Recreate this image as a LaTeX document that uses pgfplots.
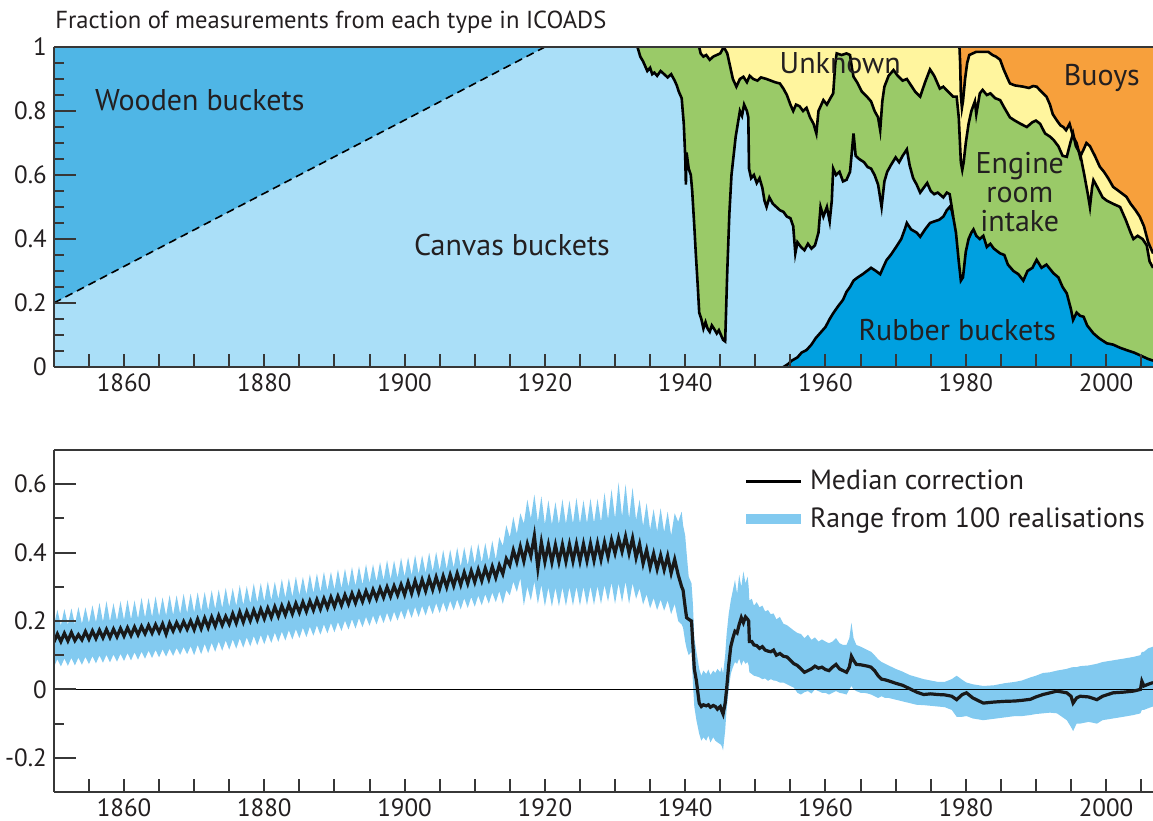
\documentclass[border=0pt]{standalone}
\usepackage{fontspec}
\setmainfont{PT Sans}
\usepackage{pgfplots}
\pgfplotsset{compat=1.18}
\usepackage{pgfplotstable}
\usepgfplotslibrary{fillbetween}

\definecolor{wood}{RGB}{79,182,230}
\definecolor{canvas}{RGB}{170,223,248}
\definecolor{eri}{RGB}{154,202,104}
\definecolor{unk}{RGB}{255,245,158}
\definecolor{buoy}{RGB}{247,160,60}
\definecolor{rubber}{RGB}{0,160,224}
\definecolor{band}{RGB}{130,202,240}
\definecolor{txt}{RGB}{35,31,32}
\definecolor{axc}{RGB}{55,55,55}

% canvas-bucket upper boundary
\pgfplotstableread{
x y
1850 1
1933.2 1
1933.6 0.97
1934.0 0.955
1934.3 0.94
1934.6 0.925
1935.0 0.935
1935.3 0.915
1935.6 0.92
1936.0 0.91
1936.5 0.925
1937.0 0.915
1937.5 0.905
1938.0 0.915
1938.5 0.895
1938.8 0.88
1939.1 0.86
1939.5 0.84
1939.8 0.76
1940.0 0.66
1940.1 0.57
1940.2 0.67
1940.5 0.62
1940.8 0.60
1941.0 0.55
1941.3 0.44
1941.5 0.36
1941.8 0.25
1942.0 0.17
1942.3 0.15
1942.6 0.12
1942.9 0.14
1943.2 0.12
1943.5 0.11
1943.8 0.13
1944.1 0.12
1944.5 0.105
1944.8 0.115
1945.1 0.10
1945.4 0.085
1945.7 0.08
1946.0 0.30
1946.3 0.48
1946.6 0.60
1946.9 0.66
1947.2 0.72
1947.5 0.76
1947.8 0.80
1948.1 0.785
1948.4 0.82
1948.8 0.80
1949.0 0.78
1949.1 0.62
1949.4 0.59
1949.8 0.60
1950.2 0.575
1950.6 0.59
1951.0 0.56
1951.3 0.52
1951.6 0.50
1952.0 0.53
1952.5 0.51
1953.0 0.50
1953.5 0.49
1954.0 0.485
1954.5 0.47
1955.0 0.465
1955.4 0.44
1955.7 0.355
1956.0 0.39
1956.5 0.375
1957.0 0.365
1957.5 0.385
1958.0 0.37
1958.5 0.38
1959.0 0.42
1959.3 0.50
1959.7 0.47
1960.2 0.50
1960.6 0.455
1960.9 0.52
1961.1 0.62
1961.5 0.60
1962.0 0.61
1962.5 0.58
1963.0 0.585
1963.5 0.61
1964.0 0.73
1964.3 0.66
1964.8 0.65
1965.5 0.64
1966.0 0.625
1966.5 0.62
1967.0 0.60
1967.5 0.57
1968.0 0.50
1968.4 0.58
1968.8 0.61
1969.3 0.63
1970.0 0.655
1970.5 0.64
1971.0 0.66
1971.6 0.68
1972.0 0.63
1972.5 0.59
1973.0 0.57
1973.5 0.545
1974.0 0.56
1974.5 0.575
1975.0 0.55
1975.5 0.54
1976.0 0.545
1976.8 0.53
1977.3 0.545
1977.7 0.54
1978.0 0.50
1978.2 0.47
}\Ctab

% rubber-bucket upper boundary
\pgfplotstableread{
x y
1954.0 0
1954.6 0.008
1955.2 0.02
1956.0 0.03
1956.6 0.045
1957.3 0.053
1958.0 0.07
1958.6 0.09
1959.2 0.105
1960.0 0.125
1960.6 0.15
1961.1 0.168
1961.8 0.19
1962.5 0.21
1963.0 0.235
1963.5 0.25
1964.0 0.27
1964.6 0.28
1965.3 0.29
1965.9 0.30
1966.5 0.31
1967.2 0.30
1967.8 0.29
1968.2 0.31
1968.7 0.334
1969.3 0.35
1970.1 0.376
1970.8 0.40
1971.3 0.43
1971.6 0.45
1972.2 0.43
1973.0 0.42
1973.5 0.407
1974.2 0.43
1974.9 0.45
1975.5 0.455
1976.2 0.46
1976.8 0.47
1977.3 0.49
1977.7 0.50
1978.0 0.49
1978.2 0.47
1978.6 0.42
1979.0 0.33
1979.3 0.27
1979.6 0.28
1980.0 0.36
1980.4 0.40
1980.8 0.42
1981.1 0.43
1981.5 0.41
1982.0 0.40
1982.5 0.41
1983.0 0.375
1983.5 0.385
1984.0 0.37
1984.9 0.355
1985.5 0.35
1986.0 0.32
1986.8 0.30
1987.5 0.29
1988.2 0.27
1988.8 0.30
1989.5 0.31
1990.1 0.335
1990.8 0.31
1991.5 0.32
1992.5 0.293
1993.2 0.28
1993.8 0.25
1994.4 0.23
1995.0 0.18
1995.3 0.147
1995.8 0.17
1996.3 0.16
1996.8 0.157
1997.3 0.13
1998.2 0.105
1999.0 0.09
2000.1 0.074
2001.0 0.07
2002.0 0.06
2002.9 0.053
2004.0 0.045
2005.0 0.035
2006.0 0.025
2006.7 0.02
}\Rtab

% engine-room-intake upper boundary
\pgfplotstableread{
x y
1850 1
1942.0 1
1942.2 0.98
1942.6 0.97
1943.0 0.975
1943.5 0.96
1944.0 0.97
1944.5 0.975
1945.0 0.98
1945.5 1.0
1946.0 0.98
1946.4 0.94
1946.8 0.90
1947.3 0.876
1947.8 0.90
1948.3 0.907
1948.8 0.89
1949.2 0.91
1949.7 0.90
1950.3 0.895
1950.8 0.905
1951.6 0.90
1952.2 0.895
1952.8 0.89
1953.5 0.886
1954.0 0.87
1954.5 0.85
1955.0 0.82
1955.4 0.80
1955.8 0.82
1956.3 0.815
1956.8 0.80
1957.3 0.81
1957.8 0.78
1958.3 0.76
1958.7 0.73
1959.0 0.80
1959.7 0.834
1960.2 0.82
1960.7 0.84
1961.1 0.855
1961.4 0.95
1961.6 0.98
1962.3 0.975
1963.0 0.98
1963.5 0.975
1963.8 0.93
1964.0 0.907
1964.5 0.89
1965.2 0.86
1965.9 0.845
1966.5 0.83
1967.0 0.80
1967.5 0.78
1967.8 0.74
1968.1 0.83
1968.4 0.876
1969.0 0.91
1969.7 0.928
1970.3 0.91
1971.0 0.895
1971.6 0.90
1972.2 0.88
1972.8 0.86
1973.5 0.845
1974.2 0.89
1974.9 0.93
1975.5 0.91
1976.3 0.87
1976.8 0.876
1977.5 0.86
1978.2 0.845
1978.7 0.845
1979.0 0.78
1979.3 0.64
1979.5 0.616
1979.7 0.64
1980.0 0.70
1980.4 0.76
1980.8 0.80
1981.3 0.83
1981.5 0.79
1982.0 0.855
1982.4 0.866
1983.0 0.85
1983.5 0.855
1984.2 0.84
1984.9 0.834
1985.5 0.81
1986.3 0.78
1987.0 0.77
1987.8 0.76
1988.7 0.75
1989.5 0.765
1990.0 0.77
1990.6 0.76
1991.3 0.73
1992.0 0.72
1992.5 0.71
1993.2 0.69
1993.8 0.66
1994.4 0.657
1994.9 0.70
1995.3 0.73
1995.7 0.69
1996.3 0.667
1996.9 0.60
1997.4 0.54
1997.7 0.50
1998.0 0.56
1998.2 0.584
1998.8 0.56
1999.5 0.53
2000.1 0.52
2001.0 0.51
2002.0 0.50
2002.8 0.46
2003.5 0.42
2003.9 0.40
2004.5 0.41
2005.2 0.40
2005.8 0.38
2006.2 0.33
2006.7 0.31
}\Etab

% unknown upper boundary
\pgfplotstableread{
x y
1850 1
1979.1 1
1979.2 0.95
1979.3 0.85
1979.45 0.81
1979.6 0.83
1979.9 0.90
1980.2 0.95
1980.5 0.975
1981.0 0.98
1981.5 0.985
1982.4 0.985
1983.2 0.985
1983.8 0.975
1984.3 0.97
1984.9 0.96
1985.4 0.93
1986.0 0.90
1986.3 0.886
1987.0 0.88
1987.6 0.878
1988.2 0.876
1989.0 0.872
1989.6 0.878
1990.1 0.876
1990.8 0.86
1991.5 0.845
1992.0 0.82
1992.4 0.79
1993.0 0.77
1993.5 0.755
1993.9 0.75
1994.3 0.74
1994.8 0.76
1995.3 0.72
1995.8 0.70
1996.3 0.657
1996.8 0.68
1997.2 0.70
1997.7 0.69
1998.4 0.66
1999.1 0.626
1999.7 0.61
2000.3 0.59
2001.0 0.563
2001.8 0.55
2002.9 0.532
2003.5 0.51
2004.2 0.49
2004.8 0.47
2005.4 0.44
2006.0 0.39
2006.7 0.355
}\Utab

% bias correction: median, upper and lower bound of range
\pgfplotstableread{
x med up lo
1850.0 .138 .185 .065
1850.5 .162 .233 .088
1851.0 .140 .187 .067
1851.5 .164 .235 .090
1852.0 .142 .189 .069
1852.5 .166 .237 .092
1853.0 .143 .190 .070
1853.5 .160 .241 .093
1854.0 .145 .192 .072
1854.5 .169 .240 .095
1855.0 .147 .194 .074
1855.5 .171 .246 .097
1856.0 .149 .196 .076
1856.5 .173 .253 .099
1857.0 .151 .198 .078
1857.5 .175 .258 .101
1858.0 .152 .199 .079
1858.5 .176 .252 .102
1859.0 .154 .201 .081
1859.5 .178 .258 .104
1860.0 .156 .203 .083
1860.5 .180 .262 .106
1861.0 .158 .205 .085
1861.5 .182 .260 .108
1862.0 .160 .207 .087
1862.5 .184 .268 .110
1863.0 .163 .210 .090
1863.5 .187 .267 .113
1864.0 .165 .212 .092
1864.5 .189 .272 .115
1865.0 .167 .214 .094
1865.5 .191 .269 .117
1866.0 .162 .216 .096
1866.5 .193 .276 .119
1867.0 .171 .218 .098
1867.5 .195 .275 .121
1868.0 .174 .221 .101
1868.5 .198 .280 .124
1869.0 .176 .223 .103
1869.5 .200 .280 .126
1870.0 .175 .225 .100
1870.5 .205 .284 .130
1871.0 .178 .228 .103
1871.5 .208 .285 .133
1872.0 .181 .231 .106
1872.5 .211 .290 .136
1873.0 .185 .235 .110
1873.5 .215 .292 .140
1874.0 .188 .238 .113
1874.5 .213 .297 .143
1875.0 .191 .241 .116
1875.5 .221 .296 .146
1876.0 .194 .244 .119
1876.5 .226 .305 .149
1877.0 .197 .247 .122
1877.5 .227 .302 .152
1878.0 .201 .251 .126
1878.5 .231 .310 .156
1879.0 .204 .254 .129
1879.5 .234 .311 .159
1880.0 .207 .257 .132
1880.5 .237 .316 .162
1881.0 .211 .261 .136
1881.5 .241 .315 .166
1882.0 .214 .264 .139
1882.5 .244 .323 .169
1883.0 .218 .268 .143
1883.5 .248 .325 .173
1884.0 .221 .271 .146
1884.5 .251 .330 .176
1885.0 .225 .275 .150
1885.5 .255 .329 .180
1886.0 .228 .278 .153
1886.5 .258 .337 .183
1887.0 .232 .282 .157
1887.5 .262 .339 .187
1888.0 .235 .285 .160
1888.5 .265 .344 .190
1889.0 .239 .289 .164
1889.5 .269 .344 .194
1890.0 .242 .292 .167
1890.5 .272 .351 .197
1891.0 .246 .296 .171
1891.5 .276 .353 .201
1892.0 .250 .300 .175
1892.5 .280 .358 .205
1893.0 .253 .303 .178
1893.5 .283 .360 .208
1894.0 .257 .307 .182
1894.5 .287 .366 .212
1895.0 .261 .311 .186
1895.5 .291 .366 .216
1896.0 .265 .315 .190
1896.5 .295 .372 .220
1897.0 .269 .319 .194
1897.5 .299 .378 .224
1898.0 .272 .322 .197
1898.5 .302 .377 .227
1899.0 .276 .326 .201
1899.5 .306 .385 .231
1900.0 .277 .330 .205
1900.5 .313 .387 .237
1901.0 .281 .334 .209
1901.5 .317 .393 .241
1902.0 .284 .337 .212
1902.5 .320 .392 .244
1903.0 .288 .341 .216
1903.5 .324 .400 .248
1904.0 .292 .345 .220
1904.5 .328 .402 .252
1905.0 .295 .348 .223
1905.5 .331 .408 .255
1906.0 .299 .352 .227
1906.5 .335 .409 .259
1907.0 .303 .356 .231
1907.5 .339 .415 .263
1908.0 .306 .359 .234
1908.5 .342 .416 .266
1909.0 .310 .363 .238
1909.5 .346 .422 .270
1910.0 .314 .367 .242
1910.5 .350 .426 .274
1911.0 .318 .371 .246
1911.5 .354 .428 .278
1912.0 .323 .376 .251
1912.5 .359 .435 .283
1913.0 .327 .380 .255
1913.5 .363 .445 .287
1914.0 .338 .420 .250
1914.5 .382 .480 .290
1915.0 .363 .445 .275
1915.5 .407 .505 .315
1916.0 .373 .455 .285
1916.5 .417 .515 .325
1917.0 .375 .485 .245
1917.5 .425 .555 .300
1918.0 .390 .500 .260
1918.5 .449 .570 .315
1919.0 .355 .490 .250
1919.5 .430 .565 .305
1920.0 .373 .483 .243
1920.5 .423 .553 .298
1921.0 .372 .482 .242
1921.5 .422 .548 .297
1922.0 .373 .483 .243
1922.5 .423 .556 .298
1923.0 .374 .484 .244
1923.5 .424 .552 .299
1924.0 .375 .485 .245
1924.5 .425 .560 .300
1925.0 .375 .485 .245
1925.5 .425 .553 .300
1926.0 .376 .486 .246
1926.5 .426 .558 .301
1927.0 .377 .487 .247
1927.5 .427 .557 .302
1928.0 .380 .490 .250
1928.5 .430 .575 .305
1929.0 .387 .497 .257
1929.5 .437 .585 .312
1930.0 .398 .500 .250
1930.5 .442 .605 .310
1931.0 .403 .505 .255
1931.5 .447 .600 .315
1932.0 .398 .500 .250
1932.5 .442 .590 .310
1933.0 .385 .495 .265
1933.5 .425 .555 .295
1934.0 .368 .478 .248
1934.5 .408 .545 .278
1935.0 .357 .467 .237
1935.5 .397 .527 .267
1936.0 .352 .462 .232
1936.5 .392 .530 .262
1937.0 .350 .460 .230
1937.5 .390 .520 .260
1938.0 .340 .450 .220
1938.5 .380 .515 .250
1939.0 .335 .490 .200
1939.5 .300 .520 .190
1939.7 .290 .480 .180
1940.0 .240 .450 .140
1940.2 .210 .400 .120
1940.5 .205 .330 .100
1940.9 .200 .310 .110
1941.1 .130 .250 .020
1941.3 .060 .150 -.050
1941.6 .025 .110 -.090
1942.0 -.040 .060 -.130
1942.3 -.050 .040 -.150
1942.6 -.045 .055 -.140
1943.0 -.048 .045 -.150
1943.3 -.045 .058 -.135
1943.6 -.052 .042 -.155
1944.0 -.047 .055 -.140
1944.3 -.050 .048 -.150
1944.6 -.058 .060 -.155
1945.0 -.050 .050 -.160
1945.2 -.062 .065 -.165
1945.4 -.072 .045 -.178
1945.7 -.040 .100 -.120
1945.9 .000 .160 -.060
1946.2 .070 .220 .000
1946.5 .125 .260 .045
1946.8 .150 .290 .065
1947.1 .170 .320 .080
1947.4 .165 .280 .075
1947.7 .190 .335 .090
1948.0 .210 .300 .070
1948.3 .195 .345 .085
1948.6 .212 .310 .075
1948.9 .205 .330 .080
1949.05 .200 .300 .070
1949.15 .140 .260 .050
1949.5 .140 .265 .045
1949.8 .130 .245 .040
1950.2 .128 .255 .038
1950.6 .120 .240 .035
1951.0 .125 .245 .030
1951.4 .115 .228 .032
1951.8 .112 .232 .025
1952.2 .110 .220 .030
1952.6 .115 .222 .026
1953.0 .100 .205 .025
1953.5 .105 .212 .020
1954.0 .097 .192 .020
1954.5 .095 .188 .015
1955.0 .085 .180 .010
1955.5 .075 .172 .005
1956.0 .070 .165 -.010
1956.5 .060 .162 -.015
1957.0 .050 .150 -.008
1957.5 .055 .160 -.005
1958.0 .060 .145 -.012
1958.5 .068 .152 .000
1959.0 .062 .140 -.005
1959.5 .065 .146 -.010
1960.0 .058 .140 -.010
1960.5 .055 .135 -.015
1961.0 .065 .140 -.010
1961.5 .073 .150 -.005
1962.0 .060 .135 -.010
1962.5 .055 .130 -.012
1963.0 .050 .130 -.015
1963.4 .065 .150 .000
1963.7 .097 .195 .010
1964.0 .085 .150 .000
1964.4 .073 .130 -.005
1965.0 .072 .125 -.010
1965.5 .070 .120 -.010
1966.0 .068 .115 -.012
1966.5 .065 .110 -.015
1967.0 .055 .100 -.020
1967.5 .040 .088 -.025
1968.0 .030 .080 -.020
1968.5 .028 .075 -.025
1969.0 .025 .070 -.025
1970.0 .018 .060 -.030
1971.0 .012 .052 -.035
1972.0 .002 .042 -.040
1973.0 -.008 .036 -.045
1974.0 -.015 .030 -.046
1975.0 -.013 .026 -.048
1976.0 -.015 .022 -.050
1977.0 -.016 .022 -.052
1978.0 -.020 .030 -.060
1978.7 -.030 .040 -.080
1979.5 -.015 .028 -.080
1980.1 -.010 .020 -.078
1981.0 -.025 .015 -.085
1982.5 -.040 .010 -.090
1984.0 -.037 .012 -.086
1985.5 -.035 .018 -.082
1987.0 -.034 .022 -.078
1988.0 -.032 .026 -.078
1989.2 -.029 .035 -.075
1990.0 -.022 .040 -.072
1991.0 -.015 .048 -.070
1992.0 -.010 .050 -.068
1993.0 -.005 .055 -.070
1994.4 -.010 .060 -.090
1995.0 -.020 .064 -.110
1995.3 -.040 .065 -.122
1995.8 -.025 .065 -.100
1996.3 -.020 .068 -.100
1997.5 -.022 .070 -.095
1998.7 -.030 .075 -.100
1999.5 -.020 .080 -.090
2001.0 -.010 .085 -.085
2002.5 -.008 .090 -.080
2003.9 -.005 .095 -.075
2004.9 .000 .100 -.070
2005.1 .024 .110 -.060
2005.4 .010 .110 -.060
2006.0 .015 .120 -.055
2006.7 .020 .125 -.050
}\Btab

\pgfplotsset{
  myax/.style={
    scale only axis, width=549.58pt,
    xmin=1850, xmax=2006.69,
    axis lines*=left,
    axis line style={axc, line width=1pt},
    axis on top,
    clip mode=individual,
    tick align=inside,
    tick style={axc, line width=1pt},
    major tick length=11pt, minor tick length=5pt,
    xtick={1855,1860,...,2005},
    xticklabels={,1860,,,,1880,,,,1900,,,,1920,,,,1940,,,,1960,,,,1980,,,,2000,},
    xtick style={/pgfplots/major tick length=6.5pt},
    ticklabel style={font=\fontsize{12.5}{14}\selectfont, text=txt},
    /pgf/number format/assume math mode=true,
  },
}
\tikzset{lab/.style={font=\fontsize{15}{17}\selectfont, text=txt}}

\begin{document}
\begin{tikzpicture}
% ---------------- top panel ----------------
\begin{axis}[myax, height=160pt, ymin=0, ymax=1,
  anchor=south west, at={(0pt,0pt)},
  ytick={0,0.2,0.4,0.6,0.8,1},
  yticklabels={0,0.2,0.4,0.6,0.8,1},
  minor ytick={0.05,0.1,0.15,0.25,0.3,0.35,0.45,0.5,0.55,0.65,0.7,0.75,0.85,0.9,0.95},
]
\addplot[fill=buoy, draw=none] coordinates {(1850,1) (2006.7,1)} \closedcycle;
\addplot[fill=unk, draw=none] table[x=x,y=y]{\Utab} \closedcycle;
\addplot[fill=eri, draw=none] table[x=x,y=y]{\Etab} \closedcycle;
\addplot[fill=canvas, draw=none] table[x=x,y=y]{\Ctab} \closedcycle;
\addplot[fill=wood, draw=none] coordinates {(1850,0.2) (1920,1) (1850,1)};
\addplot[fill=rubber, draw=none] table[x=x,y=y]{\Rtab} \closedcycle;
\addplot[black, dash pattern=on 4pt off 2.5pt, line width=0.8pt] coordinates {(1850,0.2) (1920,1)};
\addplot[black, line width=1.3pt, restrict x to domain=1933:1979] table[x=x,y=y]{\Ctab};
\addplot[black, line width=1.3pt] table[x=x,y=y]{\Rtab};
\addplot[black, line width=1.3pt, restrict x to domain=1941.9:2007] table[x=x,y=y]{\Etab};
\addplot[black, line width=1.3pt, restrict x to domain=1979:2007] table[x=x,y=y]{\Utab};
\draw[axc, line width=1pt] (rel axis cs:0,1) -- (rel axis cs:1,1);
\node[lab] at (axis cs:1870.8,0.834) {Wooden buckets};
\node[lab] at (axis cs:1915.3,0.381) {Canvas buckets};
\node[lab] at (axis cs:1962.1,0.95) {Unknown};
\node[lab] at (axis cs:1999.4,0.903) {Buoys};
\node[lab, align=center, font=\fontsize{15}{14.3}\selectfont] at (axis cs:1987.7,0.547) {Engine\\room\\intake};
\node[lab] at (axis cs:1978.8,0.116) {Rubber buckets};
\node[lab, anchor=base west, font=\fontsize{12.3}{14}\selectfont] at ([yshift=9.5pt,xshift=-2.8pt]rel axis cs:0,1) {Fraction of measurements from each type in ICOADS};
\end{axis}

% ---------------- bottom panel ----------------
\begin{axis}[myax, height=171pt, ymin=-0.3, ymax=0.7,
  anchor=north west, at={(0pt,-41.5pt)},
  ytick={-0.2,0,0.2,0.4,0.6},
  yticklabels={-0.2,0,0.2,0.4,0.6},
  minor ytick={-0.1,0.1,0.3,0.5},
  legend style={at={(axis cs:1947.9,0.654)}, anchor=north west, draw=none, fill=none,
     font=\fontsize{13.9}{16}\selectfont, text=txt, row sep=3.5pt, inner sep=0pt},
  legend cell align=left,
]
\addlegendimage{legend image code/.code={\draw[black,line width=1.2pt](0pt,0pt)--(27.5pt,0pt);}}
\addlegendentry{Median correction}
\addlegendimage{legend image code/.code={\draw[band,line width=5pt](0pt,0pt)--(27.5pt,0pt);}}
\addlegendentry{Range from 100 realisations}
\addplot[draw=none, name path=up, forget plot] table[x=x,y=up]{\Btab};
\addplot[draw=none, name path=lo, forget plot] table[x=x,y=lo]{\Btab};
\addplot[fill=band, draw=none, forget plot] fill between[of=up and lo];
\addplot[black, line width=0.8pt, forget plot] coordinates {(1850,0) (2006.7,0)};
\addplot[black!90, line width=1.6pt, forget plot] table[x=x,y=med]{\Btab};
\draw[axc, line width=1pt] (rel axis cs:0,1) -- (rel axis cs:1,1);
\end{axis}
\pgfresetboundingbox
\path (-26.93pt,-227pt) rectangle (549.58pt,183.5pt);
\end{tikzpicture}
\end{document}
